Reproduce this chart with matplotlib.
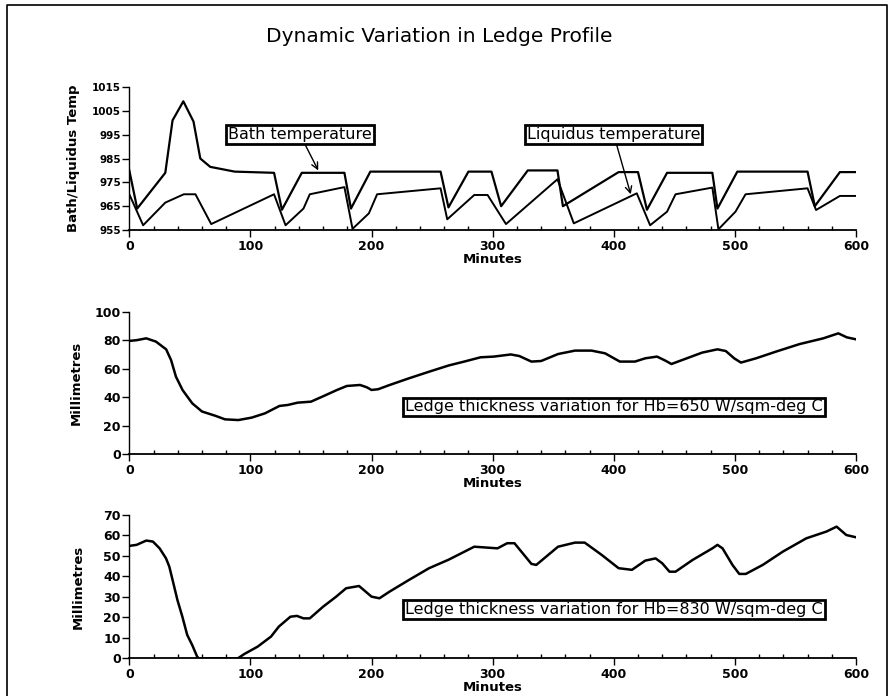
import matplotlib
matplotlib.use("Agg")
import matplotlib.pyplot as plt
from matplotlib.lines import Line2D
from matplotlib.ticker import MultipleLocator

# ---- data ----
bath_t = [0, 6.5, 29.7, 35.7, 44.6, 53, 58.6, 66.8, 87, 119.5, 126, 142.4, 177.6, 183, 199,
          257, 263.5, 280, 299, 307, 329, 353.5, 358, 404, 420, 427.4, 444, 481.4, 485.6,
          502, 560, 566, 586.7, 600]
bath_v = [980, 964, 979, 1001, 1009, 1000.5, 985, 981.5, 979.5, 979, 963.5, 979, 979, 964, 979.5,
          979.5, 964.5, 979.5, 979.5, 965, 980, 980, 965, 979.3, 979.3, 963.5, 979, 979, 964,
          979.5, 979.5, 965, 979.3, 979.3]

liq_t = [0, 11.4, 29.7, 45, 54.6, 67.6, 119.5, 129, 143.8, 149, 177.6, 184.3, 197.8, 204.6,
         257, 262.5, 284.8, 295.8, 311, 353.5, 367, 419, 430, 444, 451, 481.4, 486.4, 500.5,
         508.8, 560, 567, 586.7, 600]
liq_v = [970, 957, 966.5, 970, 970, 957.5, 970, 957, 964, 970, 973, 955.5, 962, 970,
         972.5, 959.5, 969.7, 969.7, 957.5, 976.3, 957.8, 970.4, 957, 962.7, 970, 972.8, 955.3, 962.7,
         970, 972.5, 963.4, 969.3, 969.3]

temp_ticks = [955, 965, 975, 985, 995, 1005, 1015]

l650_t = [0, 6, 14, 22, 30.4, 34.5, 38.5, 44, 52, 60, 71, 79, 90, 101, 112, 124, 131, 139, 150,
          160.6, 171.5, 179.6, 190.5, 196, 200, 205.4, 215, 231, 247.5, 263.8, 276.5, 290, 301,
          315, 322, 332, 340, 354, 368, 381.6, 392.8, 405, 417.5, 426, 435.7, 442.5, 447.6,
          456.5, 473, 485.6, 492.5, 499.4, 505, 517.5, 534, 553.5, 573, 585.4, 592.4, 600]
l650_v = [79.5, 80, 81.3, 79, 73.6, 66, 54.4, 45, 35.7, 30, 27, 24.5, 24, 25.7, 28.7, 33.9, 34.6,
          36.2, 36.9, 40.9, 45.1, 47.9, 48.6, 47, 45.1, 45.6, 48.6, 53.3, 57.9, 62.3, 65, 68, 68.5,
          70, 68.9, 65, 65.4, 70.3, 72.7, 72.7, 70.8, 65, 65, 67.3, 68.5, 65.7, 63.3, 66.1, 71.3,
          73.6, 72.4, 67.3, 64.3, 67.3, 72, 77.3, 81.3, 84.8, 82, 80.6]

l830_t = [0, 6, 14, 19.5, 25, 30.3, 33, 35.7, 39.7, 43.8, 47.8, 51.9, 56, 57.3, 89.7, 95, 106,
          117, 123.5, 133, 138.4, 143.8, 149, 160, 170.8, 179, 189.7, 200, 206.5, 215, 231, 247.5,
          263.8, 284.8, 304, 312, 318, 332, 336, 354, 368, 376, 390, 404, 415, 426, 434.5, 440,
          446, 451, 465, 481.4, 485.6, 489.8, 498, 503.6, 509, 523, 539.6, 559, 575.6, 584, 592, 600]
l830_v = [54.9, 55.4, 57.5, 57, 53.7, 48.8, 44.8, 38.3, 28.5, 20.3, 11.4, 6.5, 0.8, 0, 0, 2.1,
          5.7, 10.6, 15.5, 20.3, 20.7, 19.5, 19.5, 25.2, 30.1, 34.2, 35.3, 30.1, 29.3, 32.6, 38.3,
          44, 48.2, 54.5, 53.7, 56.2, 56.2, 46.1, 45.6, 54.5, 56.5, 56.5, 50.5, 44, 43.2, 47.7,
          48.8, 46.4, 42.3, 42.3, 48, 53.7, 55.4, 53.7, 45.6, 41.2, 41.2, 45.6, 52.1, 58.6, 61.9,
          64.3, 60.2, 59.1]

fig = plt.figure(figsize=(8.9, 6.96), dpi=100)

# outer frame (left, top, right)
fig.add_artist(Line2D([0.008, 0.008, 0.997, 0.997], [0.0, 0.993, 0.993, 0.0],
                      transform=fig.transFigure, color="black", lw=1.2))

fig.text(0.494, 0.948, "Dynamic Variation in Ledge Profile", ha="center", va="center",
         fontsize=14.5)

left, width = 0.1453, 0.8165
ax1 = fig.add_axes([left, 0.6695, width, 0.2055])
ax2 = fig.add_axes([left, 0.3473, width, 0.2049])
ax3 = fig.add_axes([left, 0.0542, width, 0.2059])

box = dict(boxstyle="square,pad=0.12", fc="white", ec="black", lw=2)
FS_BOX = 11.5

def style(ax, ylim, yticks, ylabel, xpos):
    ax.set_xlim(0, 600)
    ax.set_ylim(*ylim)
    for s in ["top", "right"]:
        ax.spines[s].set_visible(False)
    ax.spines["left"].set_linewidth(1.0)
    ax.spines["bottom"].set_linewidth(1.3)
    ax.xaxis.set_major_locator(MultipleLocator(100))
    ax.xaxis.set_minor_locator(MultipleLocator(20))
    ax.set_yticks(yticks)
    ax.tick_params(axis="x", which="major", direction="out", length=5, width=1, pad=2)
    ax.tick_params(axis="x", which="minor", direction="in", length=3, width=1)
    ax.tick_params(axis="y", which="major", direction="out", length=5, width=1, pad=1)
    for lab in ax.get_xticklabels() + ax.get_yticklabels():
        lab.set_fontweight("bold")
        lab.set_fontsize(9)
    ax.set_xlabel("Minutes", fontsize=9.5, fontweight="bold", labelpad=0)
    ax.set_ylabel(ylabel, fontsize=9.5, fontweight="bold")
    ax.yaxis.set_label_coords(xpos, 0.5)

# -------- temperatures --------
ax1.plot(bath_t, bath_v, color="black", lw=1.6)
ax1.plot(liq_t, liq_v, color="black", lw=1.4)
style(ax1, (955, 1015), temp_ticks, "Bath/Liquidus Temp", -0.068)
for lab in ax1.get_yticklabels():
    lab.set_fontsize(7.5)
ax1.annotate("Bath temperature", xy=(156, 980), xytext=(141, 995), ha="center", va="center",
             fontsize=FS_BOX, bbox=box,
             arrowprops=dict(arrowstyle="->", color="black", lw=1, shrinkA=0, shrinkB=0))
ax1.annotate("Liquidus temperature", xy=(414, 970), xytext=(400, 995), ha="center", va="center",
             fontsize=FS_BOX, bbox=box,
             arrowprops=dict(arrowstyle="->", color="black", lw=1, shrinkA=0, shrinkB=0))

# -------- ledge Hb=650 --------
ax2.plot(l650_t, l650_v, color="black", lw=1.8)
style(ax2, (0, 100), range(0, 101, 20), "Millimetres", -0.064)
ax2.text(400, 33.2, "Ledge thickness variation for Hb=650 W/sqm-deg C", ha="center",
         va="center", fontsize=FS_BOX, bbox=box)

# -------- ledge Hb=830 --------
ax3.plot(l830_t, l830_v, color="black", lw=1.8)
style(ax3, (0, 70), range(0, 71, 10), "Millimetres", -0.061)
ax3.text(400, 23.8, "Ledge thickness variation for Hb=830 W/sqm-deg C", ha="center",
         va="center", fontsize=FS_BOX, bbox=box)

plt.savefig("out.png", dpi=100)
